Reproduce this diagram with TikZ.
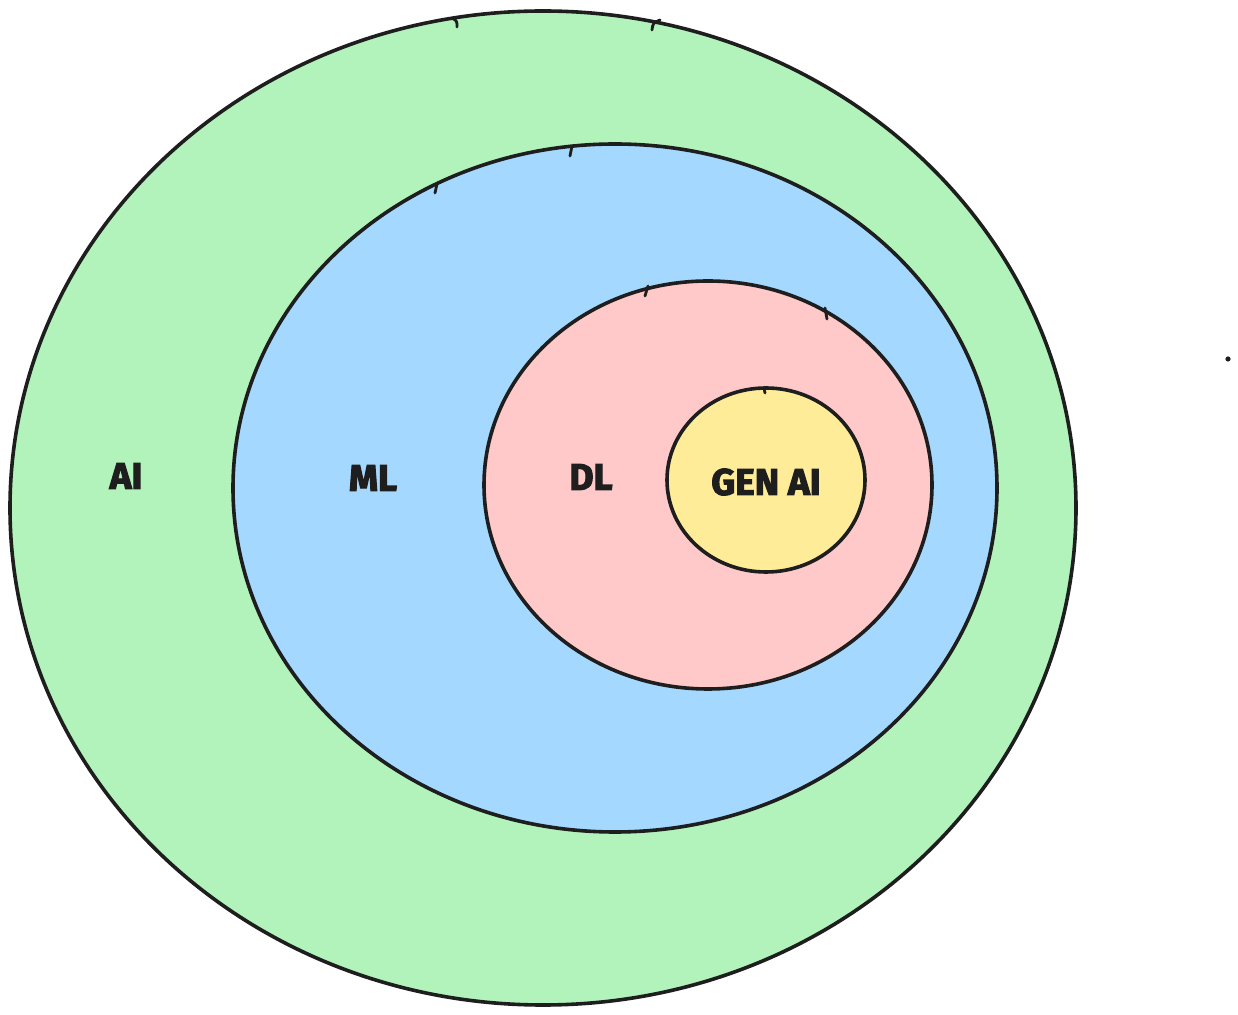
\documentclass[tikz,border=0pt]{standalone}
\usepackage{fontspec}
\setmainfont{Fira Sans}
\newfontfamily\lblfont{Fira Sans}[BoldFeatures={FakeBold=3}]
\definecolor{aigreen}{HTML}{B2F2BB}
\definecolor{mlblue}{HTML}{A5D8FF}
\definecolor{dlpink}{HTML}{FFC9C9}
\definecolor{genyellow}{HTML}{FFEC99}
\definecolor{ink}{HTML}{1E1E1E}
\begin{document}
\begin{tikzpicture}[x=0.5pt,y=-0.5pt,
  blob/.style={draw=ink,line width=1.8pt,line join=round},
  lbl/.style={text=ink,font=\lblfont\fontsize{18.5}{22}\selectfont\bfseries},
  tick/.style={draw=ink,line width=1.4pt,line cap=round}]
\useasboundingbox (0,0) rectangle (1238,1015);
% AI
\path[blob,fill=aigreen] (543,508) ellipse [x radius=533, y radius=497];
% ML
\path[blob,fill=mlblue] (615,488) ellipse [x radius=382, y radius=344];
% DL
\path[blob,fill=dlpink] (708,485) ellipse [x radius=224, y radius=204];
% GEN AI
\path[blob,fill=genyellow] (766,480) ellipse [x radius=99, y radius=92];
% ticks
\draw[tick] (452,18) .. controls (457,21) .. (457,27);
\draw[tick] (660,20) .. controls (653,23) .. (652,30);
\draw[tick] (572,146) -- (570,156);
\draw[tick] (437,184) -- (435,193);
\draw[tick] (648,286) -- (645,296);
\draw[tick] (825,308) -- (827,319);
\draw[tick] (764,388) -- (765,393);
% labels
\node[lbl] (ai) at (126,476) {AI};
\node[lbl] (ml) at (373,478) {ML};
\node[lbl] (dl) at (591,477) {DL};
\node[lbl] (gen) at (766,482) {GEN AI};
\fill[ink] (1228,359) circle (1.3pt);
\end{tikzpicture}
\end{document}
